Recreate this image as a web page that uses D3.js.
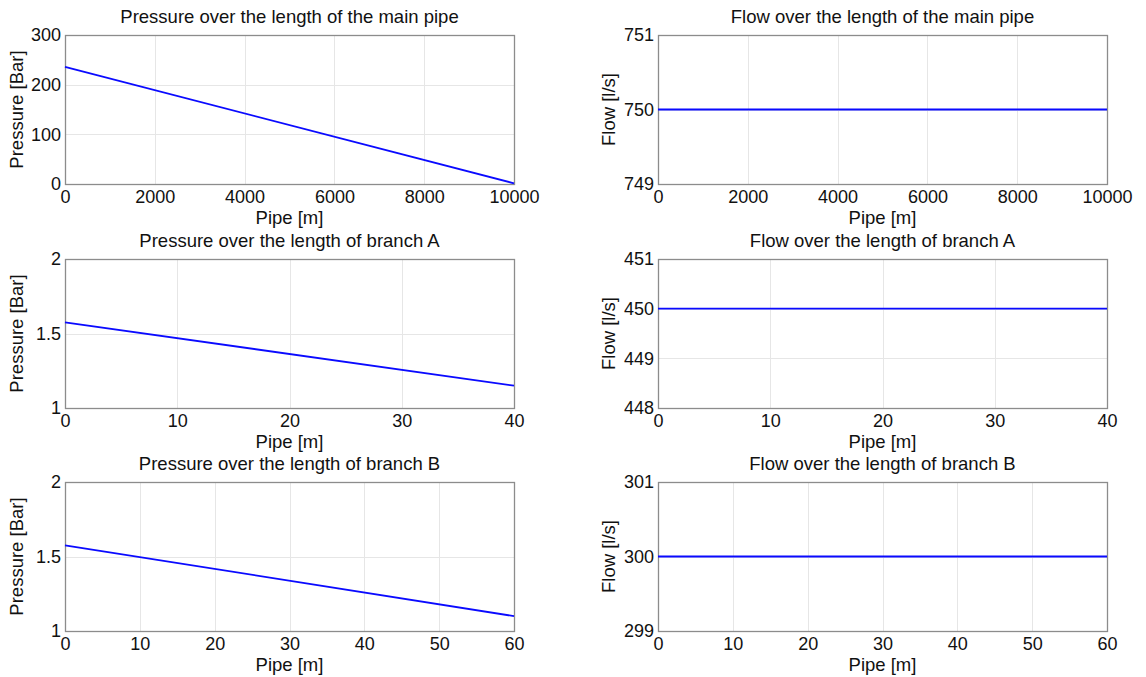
<!DOCTYPE html>
<html>
<head>
<meta charset="utf-8">
<script src="https://cdn.jsdelivr.net/npm/d3@7"></script>
<style>
  html, body { margin: 0; padding: 0; background: #fff; }
  svg { display: block; font-family: "Liberation Sans", Arial, sans-serif; }
  svg text { font-family: "Liberation Sans", Arial, sans-serif; fill: #111; }
</style>
</head>
<body>
<svg id="chart" width="1146" height="677"></svg>
<script>
// Pipe network results: pressure and flow along each pipe segment
const titles = [
  "Pressure over the length of the main pipe",
  "Flow over the length of the main pipe",
  "Pressure over the length of branch A",
  "Flow over the length of branch A",
  "Pressure over the length of branch B",
  "Flow over the length of branch B"
];
const yLabels = ["Pressure [Bar]", "Flow [l/s]"];
const xLabel = "Pipe [m]";

// Pipe lengths [m]
const mainPipeX = [0, 10000];
const branchAX = [0, 40];
const branchBX = [0, 60];

// Pressure [Bar] at start and end of each pipe
const mainPressure = [236, 1.5];
const branchAPressure = [1.575, 1.15];
const branchBPressure = [1.575, 1.1];

// Flow [l/s] (constant along each pipe)
const mainFlow = [750, 750];
const branchAFlow = [450, 450];
const branchBFlow = [300, 300];

// Axis ticks
const xTicksMain = [0, 2000, 4000, 6000, 8000, 10000];
const xTicksA = [0, 10, 20, 30, 40];
const xTicksB = [0, 10, 20, 30, 40, 50, 60];
const yTicksMainP = [0, 100, 200, 300];
const yTicksBranchP = [1, 1.5, 2];
const yTicksMainQ = [749, 750, 751];
const yTicksAQ = [448, 449, 450, 451];
const yTicksBQ = [299, 300, 301];

const panels = [
  { title: titles[0], ylab: yLabels[0], x: mainPipeX, y: mainPressure, xd: [0, 10000], yd: [0, 300], xt: xTicksMain, yt: yTicksMainP, col: 0, row: 0 },
  { title: titles[1], ylab: yLabels[1], x: mainPipeX, y: mainFlow, xd: [0, 10000], yd: [749, 751], xt: xTicksMain, yt: yTicksMainQ, col: 1, row: 0 },
  { title: titles[2], ylab: yLabels[0], x: branchAX, y: branchAPressure, xd: [0, 40], yd: [1, 2], xt: xTicksA, yt: yTicksBranchP, col: 0, row: 1 },
  { title: titles[3], ylab: yLabels[1], x: branchAX, y: branchAFlow, xd: [0, 40], yd: [448, 451], xt: xTicksA, yt: yTicksAQ, col: 1, row: 1 },
  { title: titles[4], ylab: yLabels[0], x: branchBX, y: branchBPressure, xd: [0, 60], yd: [1, 2], xt: xTicksB, yt: yTicksBranchP, col: 0, row: 2 },
  { title: titles[5], ylab: yLabels[1], x: branchBX, y: branchBFlow, xd: [0, 60], yd: [299, 301], xt: xTicksB, yt: yTicksBQ, col: 1, row: 2 }
];

const colLeft = [65, 658];
const rowTop = [35, 259, 482];
const pw = 449, ph = 149;

const svg = d3.select("#chart");
const fmt = d => String(d);

panels.forEach(p => {
  const g = svg.append("g").attr("transform", `translate(${colLeft[p.col]},${rowTop[p.row]})`);
  const x = d3.scaleLinear().domain(p.xd).range([0, pw]);
  const y = d3.scaleLinear().domain(p.yd).range([ph, 0]);

  // grid
  g.append("g").selectAll("line").data(p.xt.slice(1, -1)).join("line")
    .attr("x1", d => Math.round(x(d)) + 0.5).attr("x2", d => Math.round(x(d)) + 0.5)
    .attr("y1", 0).attr("y2", ph)
    .attr("stroke", "#e6e6e6").attr("stroke-width", 1);
  g.append("g").selectAll("line").data(p.yt.slice(1, -1)).join("line")
    .attr("y1", d => Math.round(y(d)) + 0.5).attr("y2", d => Math.round(y(d)) + 0.5)
    .attr("x1", 0).attr("x2", pw)
    .attr("stroke", "#e6e6e6").attr("stroke-width", 1);

  // axes
  const xa = g.append("g").attr("transform", `translate(0,${ph})`)
    .call(d3.axisBottom(x).tickValues(p.xt).tickFormat(fmt).tickSize(0).tickPadding(5));
  const ya = g.append("g")
    .call(d3.axisLeft(y).tickValues(p.yt).tickFormat(fmt).tickSize(0).tickPadding(4));
  [xa, ya].forEach(a => {
    a.select(".domain").remove();
    a.selectAll("text").style("font-size", "18px");
  });
  xa.selectAll("text").attr("dy", "0.75em");

  // frame
  g.append("rect").attr("x", 0.5).attr("y", 0.5).attr("width", pw).attr("height", ph)
    .attr("fill", "none").attr("stroke", "#8c8c8c").attr("stroke-width", 1.3);

  // data line
  const pts = p.x.map((v, i) => [v, p.y[i]]);
  g.append("path").datum(pts)
    .attr("d", d3.line().x(d => x(d[0])).y(d => y(d[1])))
    .attr("fill", "none").attr("stroke", "#0a0aff").attr("stroke-width", 1.8);

  // labels
  g.append("text").attr("x", pw / 2).attr("y", -12).attr("text-anchor", "middle")
    .style("font-size", "18.5px").text(p.title);
  g.append("text").attr("x", pw / 2).attr("y", ph + 40).attr("text-anchor", "middle")
    .style("font-size", "18.5px").text(xLabel);
  g.append("text").attr("transform", `translate(${p.col === 0 ? -42 : -43},${ph / 2}) rotate(-90)`)
    .attr("text-anchor", "middle").style("font-size", "18.5px").text(p.ylab);
});
</script>
</body>
</html>
